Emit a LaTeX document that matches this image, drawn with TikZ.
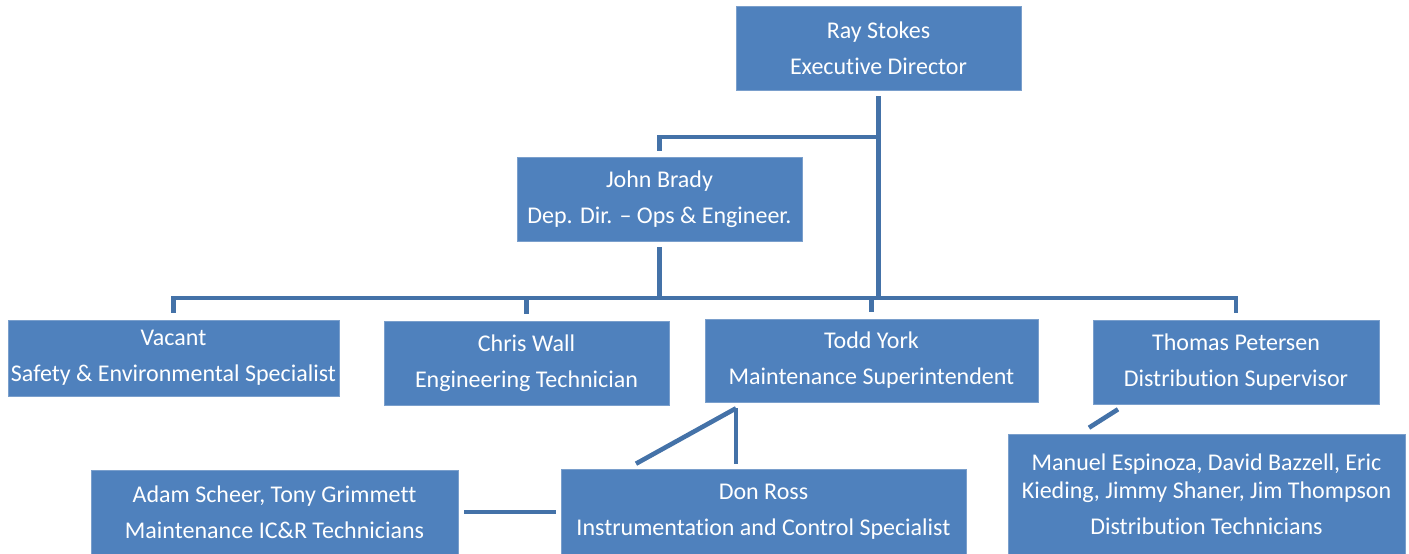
\documentclass[tikz,border=0pt]{standalone}
\usepackage{fontspec}
\setmainfont{Carlito}[Ligatures=NoCommon]
\definecolor{boxblue}{HTML}{4F81BD}
\definecolor{lineblue}{HTML}{4472A8}
\definecolor{edgeblue}{HTML}{7A9FCC}
\begin{document}
\begin{tikzpicture}[x=1pt,y=-1pt,
  orgbox/.style={fill=boxblue,draw=edgeblue,line width=0.6pt,inner sep=0pt,text=white,align=center,
    font=\fontsize{24}{36}\selectfont},
  conn/.style={draw=lineblue,line width=4.6pt}]
\useasboundingbox (0,0) rectangle (1409,554);
\node[orgbox,minimum width=285,minimum height=84] (ray) at (878.5,48) {Ray Stokes\\Executive Director};
\node[orgbox,minimum width=285,minimum height=84] (john) at (659.5,199) {John Brady\\Dep. Dir. – Ops \& Engineer.};
\node[orgbox,minimum width=331,minimum height=76] (vac) at (173.5,358) {Vacant\\Safety \& Environmental Specialist};
\node[orgbox,minimum width=285,minimum height=84] (chris) at (526.5,363) {Chris Wall\\Engineering Technician};
\node[orgbox,minimum width=333,minimum height=83] (todd) at (871.5,360.5) {Todd York\\Maintenance Superintendent};
\node[orgbox,minimum width=286,minimum height=84] (thomas) at (1236,362) {Thomas Petersen\\Distribution Supervisor};
\node[orgbox,minimum width=367,minimum height=84] (adam) at (274.5,512) {Adam Scheer, Tony Grimmett\\Maintenance IC\&R Technicians};
\node[orgbox,minimum width=405,minimum height=85] (don) at (763.5,511.5) {Don Ross\\Instrumentation and Control Specialist};
\node[orgbox,minimum width=397,minimum height=120] (manuel) at (1206.5,494) {Manuel Espinoza, David Bazzell, Eric\\[-8pt]Kieding, Jimmy Shaner, Jim Thompson\\Distribution Technicians};
% helper coordinates
\coordinate (bar) at (0,298);
\coordinate (jbar) at (0,137);
\coordinate (tk) at (736,0);
\coordinate (tk2) at (636,0);
\coordinate (tp1) at (1118,0);
\coordinate (tp2) at (1089,0);
% connectors
\draw[conn] ([yshift=-6pt]ray.south) -- (ray.south |- bar);
\draw[conn] (ray.south |- jbar) -| ([yshift=6pt]john.north);
\draw[conn] ([yshift=-6pt]john.south) -- (john.south |- bar);
\draw[conn] ([xshift=-2.3pt]vac.north |- bar) -- ([xshift=2.3pt]thomas.north |- bar);
\foreach \n in {vac,chris,todd,thomas}
  \draw[conn] (\n.north |- bar) -- ([yshift=7pt]\n.north);
\draw[conn] ([yshift=-6pt]todd.south -| tk) -- ([yshift=5pt]don.north -| tk);
\draw[conn] ([yshift=-6pt]todd.south -| tk) -- ([yshift=5pt]don.north -| tk2);
\draw[conn] ([xshift=6pt]adam.east) -- ([xshift=-5pt]don.west |- adam.east);
\draw[conn] ([yshift=-5pt]thomas.south -| tp1) -- ([yshift=6pt]manuel.north -| tp2);
\end{tikzpicture}
\end{document}
